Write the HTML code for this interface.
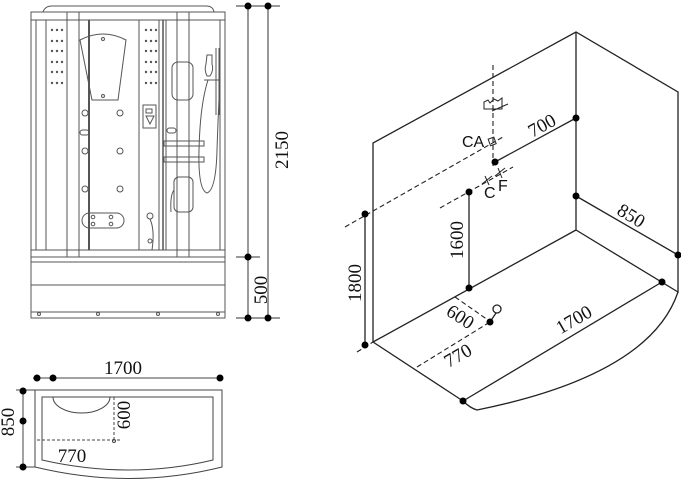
<!DOCTYPE html>
<html><head><meta charset="utf-8"><style>
html,body{margin:0;padding:0;background:#fff;}
svg{display:block;}
text{font-family:"Liberation Serif",serif;fill:#111;}
</style></head><body>
<svg width="681" height="480" viewBox="0 0 681 480" xmlns="http://www.w3.org/2000/svg">
<!-- LEFT SHOWER FRONT VIEW -->
<g fill="none" stroke="#555" stroke-width="1">
  <path d="M43,12 Q45,6 52,6 L206,6 Q213,6 214,12"/>
  <rect x="31" y="12" width="194" height="306"/>
  <line x1="31" y1="20" x2="225" y2="20"/>
  <line x1="36" y1="20" x2="36" y2="250"/>
  <line x1="46" y1="20" x2="46" y2="250"/>
  <line x1="220" y1="20" x2="220" y2="250"/>
  <rect x="67" y="12" width="12" height="245"/>
  <rect x="177" y="12" width="12" height="245"/>
  <line x1="89" y1="20" x2="89" y2="250" stroke-width="2"/>
  <line x1="139" y1="20" x2="139" y2="250"/>
  <line x1="159" y1="20" x2="159" y2="250"/>
  <line x1="163" y1="20" x2="163" y2="250" stroke-width="1.5"/>
  <line x1="166" y1="20" x2="166" y2="250"/>
  <line x1="31" y1="250" x2="225" y2="250"/>
  <line x1="31" y1="257" x2="225" y2="257"/>
  <line x1="31" y1="262" x2="225" y2="262"/>
  <line x1="31" y1="285" x2="225" y2="285"/>
  <line x1="31" y1="312" x2="225" y2="312"/>
  <circle cx="39" cy="314" r="1.5"/><circle cx="98" cy="314" r="1.5"/>
  <circle cx="158" cy="314" r="1.5"/><circle cx="218" cy="314" r="1.5"/>
  <path d="M80,40 Q103,28 126,40 L118,100 L92,100 Z"/>
  <circle cx="103" cy="39" r="1.5"/><circle cx="103" cy="96" r="1.5"/>
  <circle cx="85" cy="113" r="3"/><circle cx="120" cy="113" r="3"/>
  <circle cx="85" cy="151" r="3"/><circle cx="120" cy="151" r="3"/>
  <circle cx="85" cy="189" r="3"/><circle cx="120" cy="189" r="3"/>
  <rect x="80" y="130" width="9" height="5" rx="2.5"/>
  <rect x="167" y="128" width="9" height="5" rx="2.5"/>
  <rect x="82" y="213" width="42" height="15" rx="7.5"/>
  <circle cx="93" cy="217" r="1.8"/><circle cx="111" cy="217" r="1.8"/>
  <circle cx="93" cy="224" r="1.8"/><circle cx="111" cy="224" r="1.8"/>
  <rect x="143" y="105" width="13" height="23"/>
  <rect x="146" y="109" width="6" height="4"/>
  <path d="M146,116 L154,116 L150,124 Z"/>
  <circle cx="150" cy="216" r="3"/><circle cx="150" cy="241" r="2"/>
  <path d="M150,219 Q155,230 152,250"/>
  <rect x="172" y="62" width="21" height="38" rx="6"/>
  <rect x="174" y="177" width="19" height="35" rx="5"/>
  <path d="M174,190 Q170,195 171,212"/>
  <rect x="164" y="141" width="40" height="5"/>
  <rect x="164" y="157" width="40" height="5"/>
  <line x1="216" y1="48" x2="216" y2="115"/>
  <line x1="219" y1="48" x2="219" y2="115"/>
  <path d="M207,55 L212,55 L212,64 Q214,70 210,76 L207,76 Q204,70 206,64 Z"/>
  <line x1="204" y1="80" x2="220" y2="80"/>
  <path d="M208,80 Q200,105 199,150 Q198,190 207,193 Q216,190 217,150 Q218,120 219,100"/>
</g>
<g fill="#555">
  <g id="dl">
    <circle cx="52" cy="30" r="1.2"/><circle cx="57" cy="30" r="1.2"/><circle cx="62" cy="30" r="1.2"/>
    <circle cx="52" cy="41" r="1.2"/><circle cx="57" cy="41" r="1.2"/><circle cx="62" cy="41" r="1.2"/>
    <circle cx="52" cy="51" r="1.2"/><circle cx="57" cy="51" r="1.2"/><circle cx="62" cy="51" r="1.2"/>
    <circle cx="52" cy="62" r="1.2"/><circle cx="57" cy="62" r="1.2"/><circle cx="62" cy="62" r="1.2"/>
    <circle cx="52" cy="72" r="1.2"/><circle cx="57" cy="72" r="1.2"/><circle cx="62" cy="72" r="1.2"/>
    <circle cx="52" cy="83" r="1.2"/><circle cx="57" cy="83" r="1.2"/><circle cx="62" cy="83" r="1.2"/>
  </g>
  <use href="#dl" x="94"/>
</g>
<g stroke="#333" stroke-width="1">
  <line x1="248" y1="6" x2="248" y2="318"/>
  <line x1="268" y1="6" x2="268" y2="318"/>
  <line x1="236" y1="6" x2="280" y2="6"/>
  <line x1="236" y1="257" x2="260" y2="257"/>
  <line x1="236" y1="318" x2="280" y2="318"/>
</g>
<g fill="#000">
  <circle cx="248" cy="6" r="3.5"/><circle cx="268" cy="6" r="3.5"/>
  <circle cx="248" cy="257" r="3.5"/><circle cx="248" cy="318" r="3.5"/><circle cx="268" cy="318" r="3.5"/>
</g>
<text font-size="19" transform="translate(288,150) rotate(-90)" text-anchor="middle">2150</text>
<text font-size="19" transform="translate(267,290) rotate(-90)" text-anchor="middle">500</text>

<!-- BOTTOM PLAN -->
<g fill="none" stroke="#444" stroke-width="1">
  <path d="M35,390 L222,390 L222,467 Q130,490 35,467 Z"/>
  <path d="M42,397 L213,397 L213,460 Q130,480 42,460 Z"/>
  <path d="M53,397 A28.5,16 0 0 0 110,397"/>
  <line x1="114" y1="397" x2="114" y2="440" stroke-dasharray="3,2"/>
  <line x1="37" y1="440" x2="122" y2="440" stroke-dasharray="3,2"/>
  <circle cx="114" cy="441" r="1.5"/>
  <line x1="33" y1="378" x2="222" y2="378"/>
  <line x1="23" y1="388" x2="23" y2="470"/>
  <line x1="16" y1="390" x2="35" y2="390"/>
  <line x1="16" y1="467" x2="35" y2="467"/>
</g>
<g fill="#000">
  <circle cx="37" cy="378" r="3.5"/><circle cx="53" cy="378" r="3.5"/><circle cx="220" cy="378" r="3.5"/>
  <circle cx="23" cy="391" r="3.5"/><circle cx="23" cy="421" r="3.5"/><circle cx="23" cy="467" r="3.5"/>
</g>
<text x="123" y="374" font-size="19" text-anchor="middle">1700</text>
<text font-size="19" transform="translate(14,422) rotate(-90)" text-anchor="middle">850</text>
<text font-size="19" transform="translate(130,415) rotate(-90)" text-anchor="middle">600</text>
<text x="72" y="462" font-size="19" text-anchor="middle">770</text>

<!-- ISO VIEW -->
<g fill="none" stroke="#222" stroke-width="1.3">
  <path d="M373,342 L373,143 L576,32 L678,92 L678,293"/>
  <line x1="576" y1="32" x2="576" y2="230"/>
  <line x1="373" y1="342" x2="576" y2="230"/>
  <line x1="576" y1="230" x2="678" y2="292"/>
  <line x1="373" y1="342" x2="463" y2="401"/>
  <line x1="463" y1="401" x2="662" y2="282"/>
  <path d="M463,401 Q470,408 477,410 Q650,375 678,292"/>
  <line x1="576" y1="196" x2="678" y2="255"/>
  <line x1="495" y1="162" x2="576" y2="118"/>
  <line x1="469" y1="192" x2="469" y2="288"/>
  <line x1="365" y1="213" x2="365" y2="345"/>
  <line x1="490" y1="322" x2="496" y2="313"/>
  <circle cx="497" cy="309" r="4"/>
</g>
<g fill="none" stroke="#222" stroke-width="1.1" stroke-dasharray="5,3">
  <line x1="493" y1="65" x2="493" y2="167"/>
  <line x1="345" y1="227" x2="503" y2="137"/>
  <line x1="440" y1="208" x2="513" y2="167"/>
  <line x1="357" y1="352" x2="373" y2="342"/>
  <line x1="455" y1="297" x2="488" y2="320"/>
  <line x1="417" y1="367" x2="490" y2="322"/>
</g>
<g fill="none" stroke="#222" stroke-width="1">
  <path d="M484,109 L484,102 L488,100 L490,103 L494,99 L498,101 L502,98 L502,109 Z"/>
  <path d="M492,111 L508,104"/>
  <rect x="489" y="138" width="6" height="7" transform="rotate(-20 492 141)"/>
  <path d="M482,184 L492,176 M485,176 L489,185"/>
  <path d="M495,176 L505,168 M498,168 L502,178"/>
</g>
<g fill="#000">
  <circle cx="576" cy="118" r="3.5"/><circle cx="495" cy="162" r="3.5"/>
  <circle cx="576" cy="196" r="3.5"/><circle cx="678" cy="255" r="3.5"/>
  <circle cx="469" cy="192" r="3.5"/><circle cx="469" cy="288" r="3.5"/>
  <circle cx="365" cy="214" r="3.5"/><circle cx="365" cy="345" r="3.5"/>
  <circle cx="490" cy="322" r="3.5"/><circle cx="463" cy="401" r="3.5"/>
  <circle cx="662" cy="282" r="3.5"/>
</g>
<text x="462" y="147" style="font-family:'Liberation Sans',sans-serif" font-size="16">CA</text>
<text x="484" y="198" style="font-family:'Liberation Sans',sans-serif" font-size="16">C</text>
<text x="498" y="191" style="font-family:'Liberation Sans',sans-serif" font-size="16">F</text>
<text font-size="19" transform="translate(545,131) rotate(-29)" text-anchor="middle">700</text>
<text font-size="19" transform="translate(628,221) rotate(31)" text-anchor="middle">850</text>
<text font-size="19" transform="translate(463,240) rotate(-90)" text-anchor="middle">1600</text>
<text font-size="19" transform="translate(361,283) rotate(-90)" text-anchor="middle">1800</text>
<text font-size="19" transform="translate(457,322) rotate(33)" text-anchor="middle">600</text>
<text font-size="19" transform="translate(461,361) rotate(-30)" text-anchor="middle">770</text>
<text font-size="19" transform="translate(577,325) rotate(-30)" text-anchor="middle">1700</text>
</svg>
</body></html>
